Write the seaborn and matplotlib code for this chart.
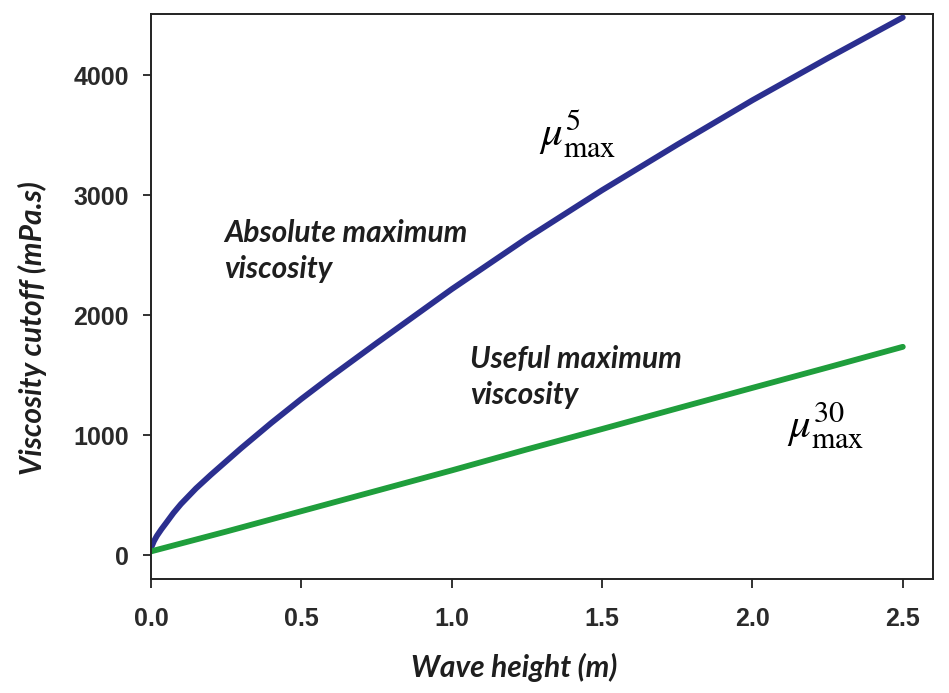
import pandas as pd
import matplotlib.pyplot as plt
import seaborn as sns

# values
wave_height_5 = [0.0, 0.01, 0.02, 0.035, 0.05, 0.075, 0.1, 0.15, 0.2, 0.3, 0.4, 0.5,
                 0.6, 0.75, 1.0, 1.25, 1.5, 1.75, 2.0, 2.25, 2.5]
mu_max_5 = [55, 115, 160, 215, 265, 350, 425, 555, 670, 890, 1100, 1300,
            1490, 1765, 2215, 2640, 3040, 3420, 3790, 4140, 4480]

wave_height_30 = [0.0, 0.25, 0.5, 0.75, 1.0, 1.25, 1.5, 1.75, 2.0, 2.25, 2.5]
mu_max_30 = [30, 195, 365, 535, 705, 880, 1050, 1222, 1393, 1563, 1735]

x_ticks = [0.0, 0.5, 1.0, 1.5, 2.0, 2.5]
y_ticks = [0, 1000, 2000, 3000, 4000]

sns.set_style("ticks")
plt.rcParams['font.family'] = ['Lato', 'DejaVu Sans']
plt.rcParams['mathtext.fontset'] = 'stix'

df5 = pd.DataFrame({"h": wave_height_5, "mu": mu_max_5})
df30 = pd.DataFrame({"h": wave_height_30, "mu": mu_max_30})

fig = plt.figure(figsize=(9.49, 6.93), dpi=100)
ax = fig.add_axes([0.159, 0.1645, 0.824, 0.8155])

sns.lineplot(data=df5, x="h", y="mu", ax=ax, color="#2B2F8F", lw=4.2)
sns.lineplot(data=df30, x="h", y="mu", ax=ax, color="#1F9E3C", lw=4.2)

ax.set_xlim(0, 2.6)
ax.set_ylim(-200, 4510)
ax.set_xticks(x_ticks)
ax.set_xticklabels([f"{t:.1f}" for t in x_ticks])
ax.set_yticks(y_ticks)
ax.set_yticklabels([str(t) for t in y_ticks])

for lab in ax.get_xticklabels() + ax.get_yticklabels():
    lab.set_family("Liberation Sans")
    lab.set_fontweight("bold")
    lab.set_fontsize(18)
    lab.set_color("#2a2a2a")
ax.tick_params(axis="x", length=6.5, width=1.3, pad=14, color="#222222")
ax.tick_params(axis="y", length=6, width=1.3, pad=10, color="#222222")
for s in ax.spines.values():
    s.set_linewidth(1.4)
    s.set_color("#222222")

label_kw = dict(fontsize=21.5, fontweight="bold", style="italic", color="#1e1e1e")
ax.set_xlabel("Wave height (m)", **label_kw)
ax.set_ylabel("Viscosity cutoff (mPa.s)", **label_kw)
ax.xaxis.set_label_coords(0.465, -0.131)
ax.yaxis.set_label_coords(-0.133, 0.444)

ax.text(0.245, 2800, "Absolute maximum\nviscosity", va="top", linespacing=1.35, **label_kw)
ax.text(1.06, 1750, "Useful maximum\nviscosity", va="top", linespacing=1.35, **label_kw)
ax.text(1.29, 3400, r"$\mu^{5}_{\mathrm{max}}$", fontsize=31, color="black")
ax.text(2.115, 980, r"$\mu^{30}_{\mathrm{max}}$", fontsize=31, color="black")

plt.savefig("out.png", dpi=100)
plt.close()
